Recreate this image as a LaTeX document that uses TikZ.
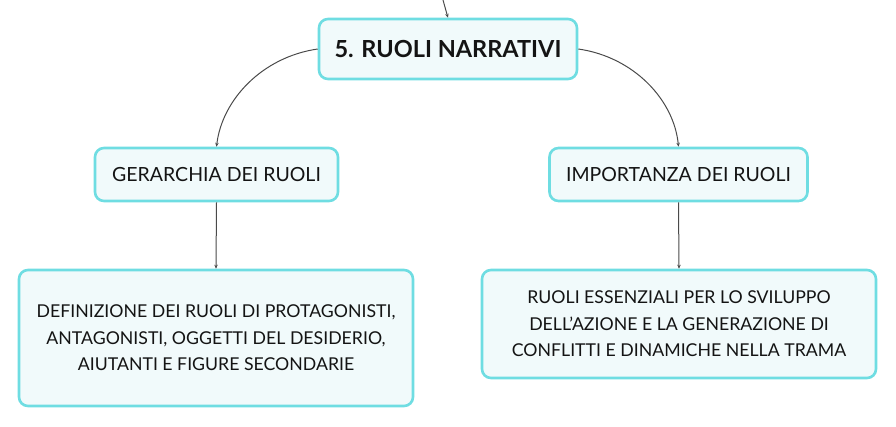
\documentclass[tikz,border=0pt]{standalone}
\usepackage{fontspec}
\setmainfont{Lato}
\usetikzlibrary{arrows.meta}
\definecolor{bordc}{HTML}{6FDDE2}
\definecolor{fillc}{HTML}{F1FAFB}
\definecolor{linec}{HTML}{4A4A4A}
\definecolor{txtc}{HTML}{141414}
\tikzset{
  box/.style={draw=bordc, line width=2.6pt, fill=fillc, rounded corners=9pt, text=txtc, align=center, inner sep=0pt},
  conn/.style={draw=linec, line width=1pt, -{Stealth[length=4pt,width=3.5pt]}},
}
\begin{document}
\begin{tikzpicture}[x=1pt,y=-1pt]
\useasboundingbox (0,0) rectangle (896,426);
\node[box, minimum width=258pt, minimum height=60pt, font=\fontsize{23.5}{26}\selectfont\bfseries] (main) at (448,49) {5. RUOLI NARRATIVI};
\node[box, minimum width=243pt, minimum height=53pt, font=\fontsize{19.5}{22}\selectfont] (ger) at (216.5,174.5) {GERARCHIA DEI RUOLI};
\node[box, minimum width=258pt, minimum height=53pt, font=\fontsize{19.5}{22}\selectfont] (imp) at (678.5,174.5) {IMPORTANZA DEI RUOLI};
\node[box, minimum width=394pt, minimum height=136pt, font=\fontsize{17.7}{26.5}\selectfont] (def) at (216,338) {DEFINIZIONE DEI RUOLI DI PROTAGONISTI,\\ANTAGONISTI, OGGETTI DEL DESIDERIO,\\AIUTANTI E FIGURE SECONDARIE};
\node[box, minimum width=394pt, minimum height=108pt, font=\fontsize{17.7}{26.5}\selectfont] (ess) at (679,324) {RUOLI ESSENZIALI PER LO SVILUPPO\\DELL'AZIONE E LA GENERAZIONE DI\\CONFLITTI E DINAMICHE NELLA TRAMA};
\coordinate (top) at (443,0);
\draw[conn] (top) .. controls (445,8) .. (main.north);
\draw[conn] (main.west) .. controls (262,57) and (222,100) .. (ger.north);
\draw[conn] (main.east) .. controls (634,57) and (674,100) .. (imp.north);
\draw[conn] (ger.south) -- (def.north);
\draw[conn] (imp.south) -- (ess.north);
\end{tikzpicture}
\end{document}
